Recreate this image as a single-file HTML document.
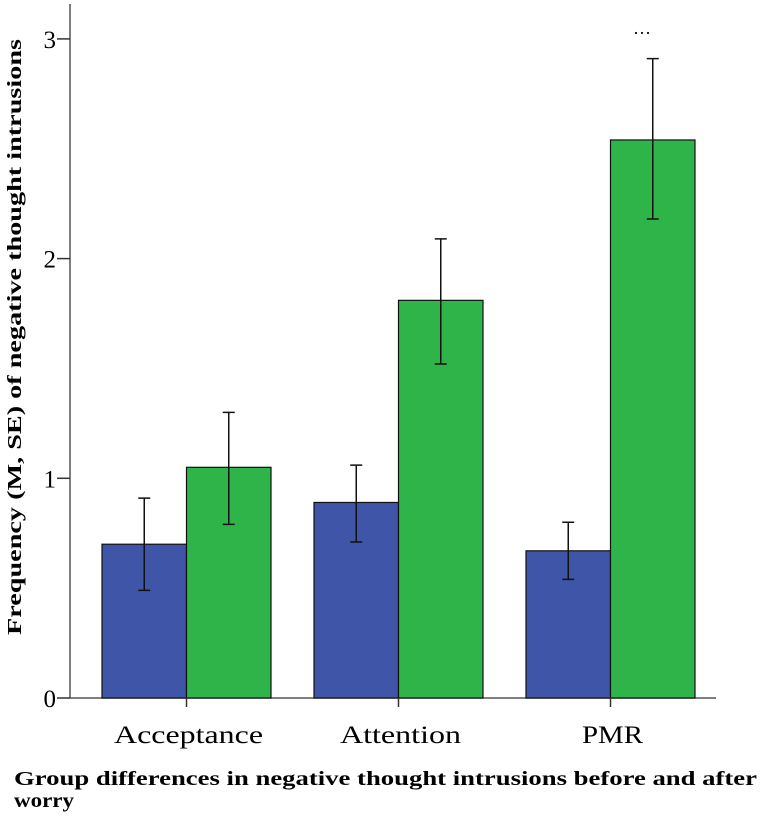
<!DOCTYPE html>
<html><head><meta charset="utf-8"><style>
body{margin:0;background:#fff}
svg text{font-family:"Liberation Serif",serif}
</style></head><body>
<svg id="chart" width="771" height="819" xmlns="http://www.w3.org/2000/svg">
<g id="marks"></g>
<text transform="translate(21,337) rotate(-90)" text-anchor="middle" font-size="20" font-weight="bold" textLength="596" lengthAdjust="spacingAndGlyphs">Frequency (M, SE) of negative thought intrusions</text>
<text x="14" y="785" font-size="20" font-weight="bold" textLength="743" lengthAdjust="spacingAndGlyphs">Group differences in negative thought intrusions before and after</text>
<text x="14" y="807" font-size="20" font-weight="bold" textLength="60" lengthAdjust="spacingAndGlyphs">worry</text>
<text x="642" y="34" text-anchor="middle" font-size="18">…</text>
</svg>
<script>
const categories=["Acceptance","Attention","PMR"];
const beforeVals=[0.70,0.89,0.67];
const beforeHi=[0.91,1.06,0.80];
const beforeLo=[0.49,0.71,0.54];
const afterVals=[1.05,1.81,2.54];
const afterHi=[1.30,2.09,2.91];
const afterLo=[0.79,1.52,2.18];
const yTicks=[0,1,2,3];
const NS="http://www.w3.org/2000/svg";
const g=document.getElementById('marks');
const y0=698,yPer=219.7;
function y(v){return y0-v*yPer;}
const bandStart=102,bandStep=212,barW=84.5;
const labelW=[149,121,61];
function cx(i){return bandStart+bandStep*i+barW;}
function mk(t,a){const e=document.createElementNS(NS,t);for(const k in a)e.setAttribute(k,a[k]);g.appendChild(e);return e;}
let ax=mk('line',{x1:70,y1:4,x2:70,y2:y0,stroke:'#555','stroke-width':1.5});


let bx=mk('line',{x1:70,y1:y0,x2:716,y2:y0,stroke:'#555','stroke-width':1.5});


yTicks.forEach(v=>{
 let t=mk('line',{x1:57,y1:y(v),x2:70,y2:y(v),stroke:'#333','stroke-width':1.5});
 
 
 let l=mk('text',{x:56,y:y(v)+9,'text-anchor':'end','font-size':25});
 l.textContent=v;
 
 
});
function bar(x,v,hi,lo,col,name){
 let r=mk('rect',{x:x,y:y(v),width:barW,height:y0-y(v),fill:col,stroke:'#111','stroke-width':1.2});
 
 
 let c=x+barW/2;
 let e=mk('path',{d:`M${c-6},${y(hi)}H${c+6}M${c},${y(hi)}V${y(lo)}M${c-6},${y(lo)}H${c+6}`,stroke:'#111','stroke-width':1.5,fill:'none'});
 
 
}
categories.forEach((c,i)=>{
 const x=bandStart+bandStep*i;
 bar(x,beforeVals[i],beforeHi[i],beforeLo[i],'#3f55a8','bar-before-'+c.toLowerCase());
 bar(x+barW,afterVals[i],afterHi[i],afterLo[i],'#2fb44a','bar-after-'+c.toLowerCase());
 let t=mk('line',{x1:cx(i),y1:y0,x2:cx(i),y2:y0+9,stroke:'#333','stroke-width':1.5});
 
 
 let l=mk('text',{x:cx(i)-labelW[i]/2+2,y:y0+45,'font-size':25,textLength:labelW[i],lengthAdjust:'spacingAndGlyphs'});
 l.textContent=c;
 
 
});
</script>
</body></html>
